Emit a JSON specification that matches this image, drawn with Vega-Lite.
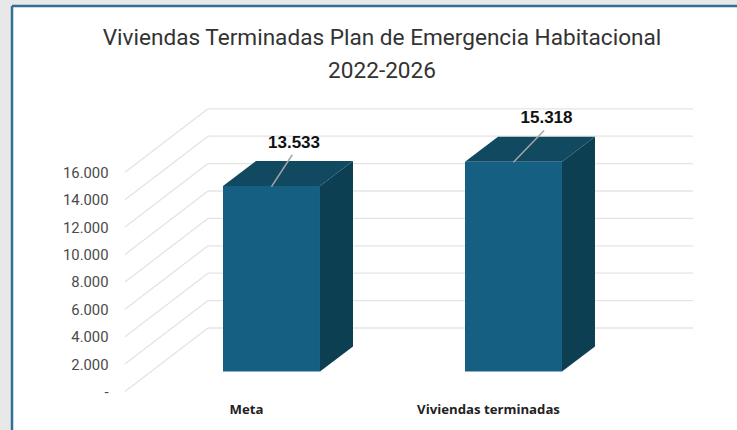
{"$schema":"https://vega.github.io/schema/vega-lite/v6.json","width":725,"height":424,"autosize":"none","padding":{"left":12,"top":6,"right":0,"bottom":0},"background":"#e8e8e8","view":{"fill":"#ffffff","stroke":null},"config":{"locale":{"number":{"decimal":",","thousands":".","grouping":[3],"currency":["$",""]}}},"title":{"text":["Viviendas Terminadas Plan de Emergencia Habitacional","2022-2026"],"font":"Roboto","fontSize":22.6,"fontWeight":"normal","color":"#333333","anchor":"middle","dx":7.5,"offset":-78,"lineHeight":33},"datasets":{"barras":[{"categoria":"Meta","valor":13533,"inicio":0.7996,"fin":1.2004,"base":1460,"tope":14993},{"categoria":"Viviendas terminadas","valor":15318,"inicio":1.7996,"fin":2.2004,"base":1460,"tope":16778}],"lateral":[{"categoria":"Meta","pos":1.2004,"base":1460,"tope":14993},{"categoria":"Meta","pos":1.3368,"base":3285,"tope":16818},{"categoria":"Viviendas terminadas","pos":2.2004,"base":1460,"tope":16778},{"categoria":"Viviendas terminadas","pos":2.3368,"base":3285,"tope":18603}],"superior":[{"categoria":"Meta","pos":0.7996,"base":14993,"tope":14993},{"categoria":"Meta","pos":0.936,"base":14993,"tope":16818},{"categoria":"Meta","pos":1.2004,"base":14993,"tope":16818},{"categoria":"Meta","pos":1.3368,"base":16818,"tope":16818},{"categoria":"Viviendas terminadas","pos":1.7996,"base":16778,"tope":16778},{"categoria":"Viviendas terminadas","pos":1.936,"base":16778,"tope":18603},{"categoria":"Viviendas terminadas","pos":2.2004,"base":16778,"tope":18603},{"categoria":"Viviendas terminadas","pos":2.3368,"base":18603,"tope":18603}],"reticula":[{"marca":0,"fondo":4635},{"marca":2000,"fondo":6635},{"marca":4000,"fondo":8635},{"marca":6000,"fondo":10635},{"marca":8000,"fondo":12635},{"marca":10000,"fondo":14635},{"marca":12000,"fondo":16635},{"marca":14000,"fondo":18635},{"marca":16000,"fondo":20635}],"guias":[{"categoria":"Meta","valor":13533,"desde":1.0,"hasta":1.0859,"ydesde":14950,"yhasta":17280,"xtexto":1.093,"ytexto":18170},{"categoria":"Viviendas terminadas","valor":15318,"desde":1.9995,"hasta":2.1264,"ydesde":16730,"yhasta":19050,"xtexto":2.1364,"ytexto":19980}]},"layer":[{"data":{"values":[{"borde":0}]},"mark":{"type":"rule","color":"#2f7096","strokeWidth":2.5},"encoding":{"x":{"datum":-0.0723,"type":"quantitative","scale":{"domain":[-0.0723,2.9236],"nice":false,"zero":false},"axis":{"values":[0.8946,1.8946],"labelExpr":"datum.value<1.5?'Meta':'Viviendas terminadas'","title":null,"domain":false,"ticks":false,"grid":false,"offset":-27,"labelPadding":0,"labelFont":"Open Sans","labelFontWeight":"bold","labelFontSize":13.2,"labelColor":"#222222"}},"y":{"datum":-2810,"type":"quantitative","scale":{"domain":[-2810,28139],"nice":false,"zero":false},"axis":{"values":[0,2000,4000,6000,8000,10000,12000,14000,16000],"labelExpr":"datum.value==0?'-':format(datum.value,',')","title":null,"domain":false,"ticks":false,"grid":false,"offset":-96,"labelPadding":0,"labelOffset":1,"labelFont":"Roboto","labelFontSize":14.8,"labelColor":"#4a4a4a"}},"y2":{"datum":28139}}},{"data":{"values":[{"borde":0}]},"mark":{"type":"rule","color":"#2f7096","strokeWidth":2.5},"encoding":{"y":{"datum":28139,"type":"quantitative"},"x":{"datum":-0.0723,"type":"quantitative"},"x2":{"datum":2.9236}}},{"data":{"name":"reticula"},"mark":{"type":"rule","color":"#e4e4e4","strokeWidth":1.3},"encoding":{"x":{"datum":0.7376,"type":"quantitative"},"x2":{"datum":2.7417},"y":{"field":"fondo","type":"quantitative"}}},{"data":{"name":"reticula"},"mark":{"type":"rule","color":"#e4e4e4","strokeWidth":1.3},"encoding":{"x":{"datum":0.3946,"type":"quantitative"},"x2":{"datum":0.7376},"y":{"field":"marca","type":"quantitative"},"y2":{"field":"fondo"}}},{"data":{"name":"lateral"},"mark":{"type":"area","color":"#0d3f52","opacity":1},"encoding":{"detail":{"field":"categoria"},"x":{"field":"pos","type":"quantitative"},"y":{"field":"base","type":"quantitative"},"y2":{"field":"tope"}}},{"data":{"name":"superior"},"mark":{"type":"area","color":"#104960","opacity":1},"encoding":{"detail":{"field":"categoria"},"x":{"field":"pos","type":"quantitative"},"y":{"field":"base","type":"quantitative"},"y2":{"field":"tope"}}},{"data":{"name":"barras"},"mark":{"type":"rect","color":"#156082"},"encoding":{"x":{"field":"inicio","type":"quantitative"},"x2":{"field":"fin"},"y":{"field":"base","type":"quantitative"},"y2":{"field":"tope"}}},{"data":{"name":"guias"},"mark":{"type":"rule","color":"#a6a6a6","strokeWidth":1.5},"encoding":{"x":{"field":"desde","type":"quantitative"},"x2":{"field":"hasta"},"y":{"field":"ydesde","type":"quantitative"},"y2":{"field":"yhasta"}}},{"data":{"name":"guias"},"mark":{"type":"text","font":"Liberation Sans","fontWeight":"bold","fontSize":17,"color":"#111111","baseline":"middle","align":"center"},"encoding":{"x":{"field":"xtexto","type":"quantitative"},"y":{"field":"ytexto","type":"quantitative"},"text":{"field":"valor","type":"quantitative","format":","}}}]}
